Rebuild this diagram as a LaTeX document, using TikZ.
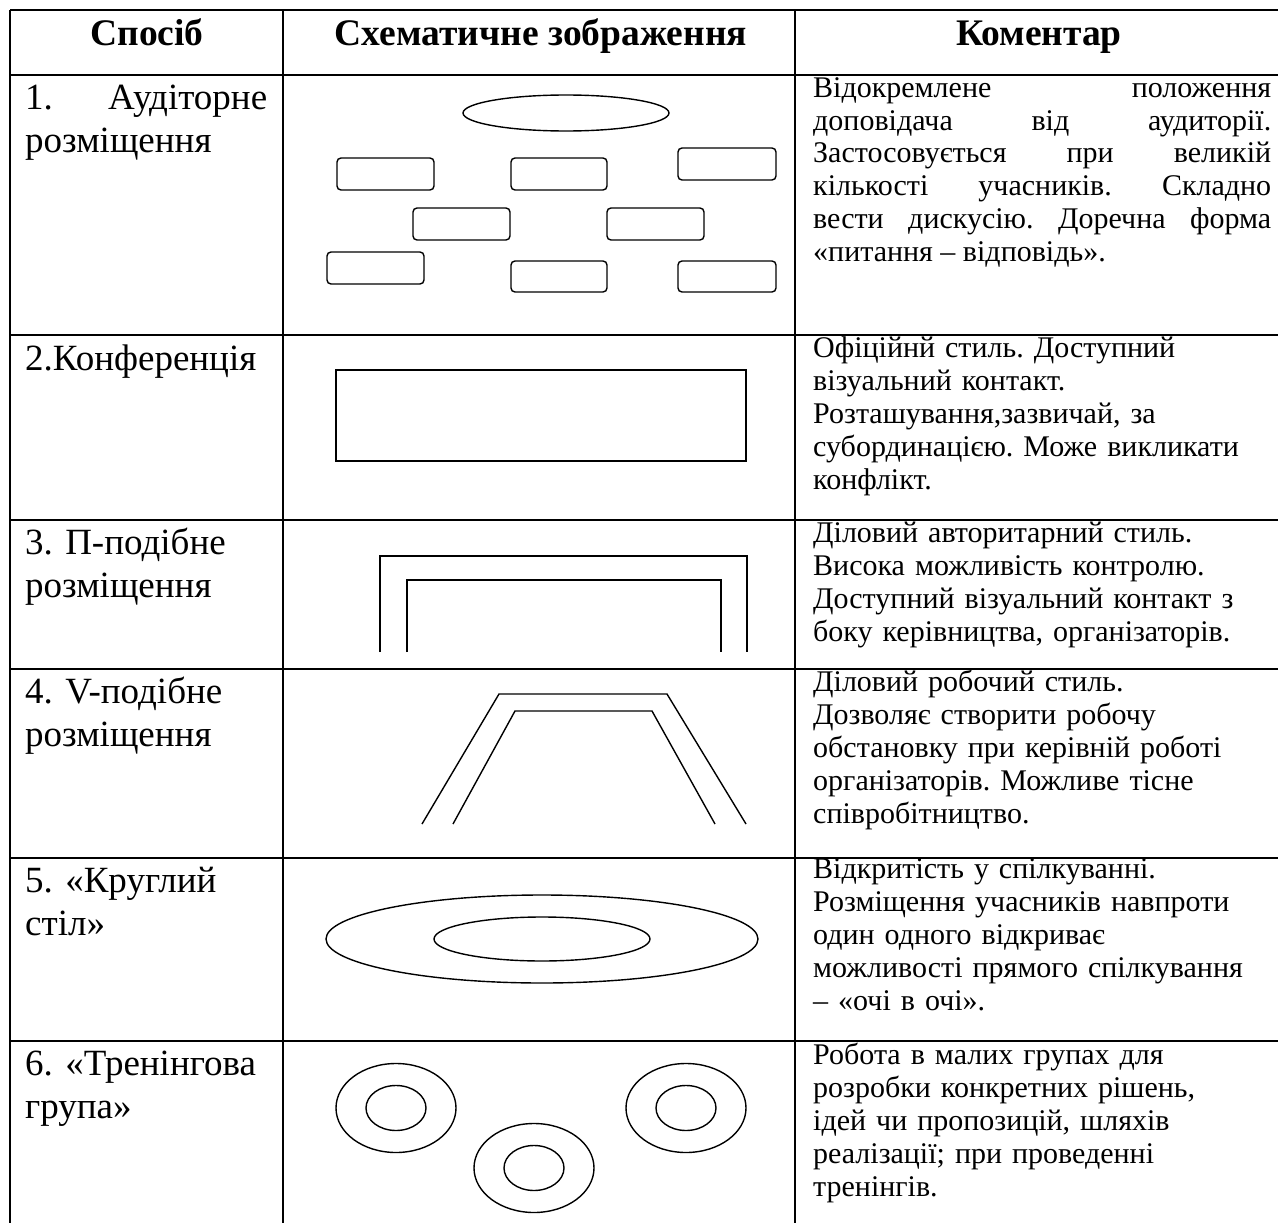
\documentclass[tikz,border=0pt]{standalone}
\usepackage{fontspec}
\setmainfont{Liberation Serif}
\frenchspacing
\begin{document}
\begin{tikzpicture}[
    x=1pt, y=-1pt, % pixel-like units, y going down
    grid/.style={line width=2.4pt}, % table rules
    sketch/.style={line width=1.4pt}, % drawings in the middle column
    desk/.style={sketch, rounded corners=4pt}, % audience desks
    head/.style={anchor=base, inner sep=0pt, font=\bfseries\fontsize{37.5}{40}\selectfont},
    way/.style={anchor=base west, inner sep=0pt, text width=262pt, align=left, font=\fontsize{37}{43}\selectfont},
    note/.style={anchor=base west, inner sep=0pt, text width=490pt, align=left, font=\fontsize{30}{33}\selectfont}
]
    \useasboundingbox (0,0) rectangle (1278,1223);

    % --- TABLE GRID ---
    \foreach \y in {10,75,335,520,669,858,1041}
        \draw[grid] (10,\y) -- (1290,\y);
    \foreach \x in {10,283,795,1281}
        \draw[grid] (\x,10) -- (\x,1240);

    % --- HEADER ---
    \node[head] (hWay) at (147,46) {Спосіб};
    \node[head] (hSketch) at (541,46) {Схематичне зображення};
    \node[head] (hNote) at (1039,46) {Коментар};

    % --- ROW 1 (auditorium) ---
    \node[way, align=justify, text width=242pt] (w1) at (25,110) {1. Аудіторне\linebreak розміщення};
    \draw[sketch] (566,113) ellipse [x radius=103, y radius=18]; % speaker
    \draw[desk] (337,158) rectangle (434,190);
    \draw[desk] (511,158) rectangle (607,190);
    \draw[desk] (678,148) rectangle (776,180);
    \draw[desk] (413,208) rectangle (510,240);
    \draw[desk] (607,208) rectangle (704,240);
    \draw[desk] (327,252) rectangle (424,284);
    \draw[desk] (511,261) rectangle (607,292);
    \draw[desk] (678,261) rectangle (776,292);
    \node[note, align=justify, text width=458pt] (n1) at (813,97) {Відокремлене положення\linebreak
        доповідача від аудиторії.\linebreak
        Застосовується при великій\linebreak
        кількості учасників. Складно\linebreak
        вести дискусію. Доречна форма\linebreak
        «питання – відповідь».};

    % --- ROW 2 (conference) ---
    \node[way] (w2) at (25,370) {2.Конференція};
    \draw[sketch] (336,370) rectangle (746,461);
    \node[note] (n2) at (813,357) {Офіційнй стиль. Доступний\\
        візуальний контакт.\\
        Розташування,зазвичай, за\\
        субординацією. Може викликати\\
        конфлікт.};

    % --- ROW 3 (U-shape) ---
    \node[way] (w3) at (25,554) {3. П-подібне\\розміщення};
    \draw[sketch] (380,652) -- (380,556) -- (747,556) -- (747,652);
    \draw[sketch] (407,652) -- (407,580) -- (721,580) -- (721,652);
    \node[note] (n3) at (813,542) {Діловий авторитарний стиль.\\
        Висока можливість контролю.\\
        Доступний візуальний контакт з\\
        боку керівництва, організаторів.};

    % --- ROW 4 (V-shape) ---
    \node[way] (w4) at (25,703) {4. V-подібне\\розміщення};
    \draw[sketch] (422,824) -- (499,694) -- (667,694) -- (746,824);
    \draw[sketch] (453,824) -- (515,711) -- (652,711) -- (715,824);
    \node[note] (n4) at (813,691) {Діловий робочий стиль.\\
        Дозволяє створити робочу\\
        обстановку при керівній роботі\\
        організаторів. Можливе тісне\\
        співробітництво.};

    % --- ROW 5 (round table) ---
    \node[way] (w5) at (25,892) {5. «Круглий\\стіл»};
    \draw[sketch] (542,939) ellipse [x radius=216, y radius=44];
    \draw[sketch] (542,939) ellipse [x radius=108, y radius=22];
    \node[note] (n5) at (813,878) {Відкритість у спілкуванні.\\
        Розміщення учасників навпроти\\
        один одного відкриває\\
        можливості прямого спілкування\\
        – «очі в очі».};

    % --- ROW 6 (training groups) ---
    \node[way] (w6) at (25,1075) {6. «Тренінгова\\група»};
    \foreach \cx/\cy in {396/1108, 534/1168, 686/1108} {
        \draw[sketch] (\cx,\cy) ellipse [x radius=60, y radius=44.5];
        \draw[sketch] (\cx,\cy) ellipse [x radius=30, y radius=22.5];
    }
    \node[note] (n6) at (813,1064) {Робота в малих групах для\\
        розробки конкретних рішень,\\
        ідей чи пропозицій, шляхів\\
        реалізації; при проведенні\\
        тренінгів.};

\end{tikzpicture}
\end{document}
